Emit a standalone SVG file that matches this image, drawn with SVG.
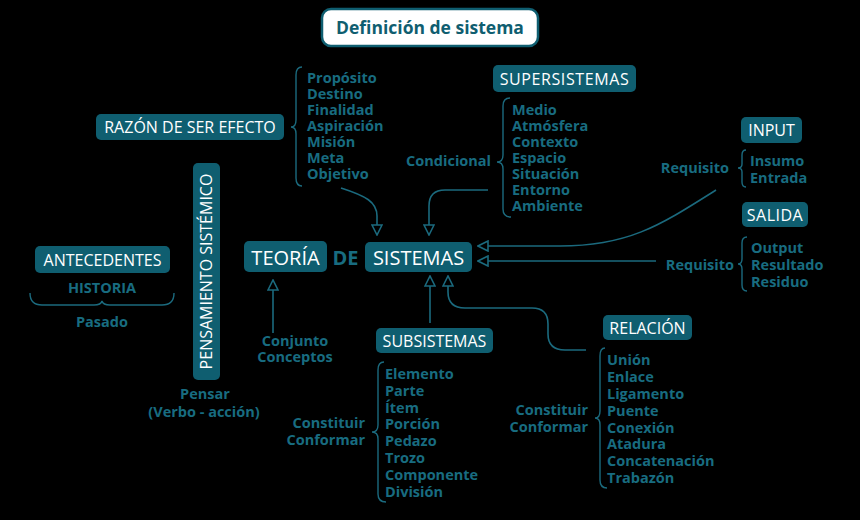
<svg xmlns="http://www.w3.org/2000/svg" width="860" height="520" viewBox="0 0 860 520">
<defs>
<style>
.box{fill:#0f5e70}
.bt{fill:#ffffff;font-family:"Open Sans",sans-serif;font-size:16px;text-anchor:middle}
.big{font-size:20px}
.t{fill:#186c80;font-family:"Open Sans",sans-serif;font-size:14.5px;font-weight:700}
.c{text-anchor:middle}
.e{text-anchor:end}
.ln{fill:none;stroke:#1b6a7e;stroke-width:1.6}
.br{fill:none;stroke:#1b6a7e;stroke-width:1.4}
</style>
<marker id="ah" viewBox="0 0 12 12" refX="11" refY="6" markerWidth="12" markerHeight="12" markerUnits="userSpaceOnUse" orient="auto">
<path d="M1,1 L11,6 L1,11 Z" fill="#000" stroke="#1b6a7e" stroke-width="1.6" stroke-linejoin="miter"/>
</marker>
</defs>
<rect width="860" height="520" fill="#000"/>

<g id="title">
<rect x="322" y="9" width="216" height="37" rx="9" fill="#ffffff" stroke="#0f5e70" stroke-width="2.5"/>
<text x="430" y="34" fill="#0f5e70" font-family="'Open Sans',sans-serif" font-size="17.5" font-weight="700" text-anchor="middle">Definición de sistema</text>
</g>

<g id="razon">
<rect class="box" x="96" y="114" width="188" height="26" rx="5"/>
<text class="bt" x="190" y="133">RAZÓN DE SER EFECTO</text>
<path class="br" d="M302,67 Q296,67 296,75 L296,120 Q296,127 291,127 Q296,127 296,134 L296,178 Q296,186 302,186"/>
<text class="t" x="307" y="83">Propósito</text>
<text class="t" x="307" y="99">Destino</text>
<text class="t" x="307" y="115">Finalidad</text>
<text class="t" x="307" y="131">Aspiración</text>
<text class="t" x="307" y="147">Misión</text>
<text class="t" x="307" y="163">Meta</text>
<text class="t" x="307" y="179">Objetivo</text>
</g>

<g id="supersistemas">
<rect class="box" x="493" y="65" width="143" height="27" rx="5"/>
<text class="bt" x="564.5" y="85" letter-spacing="0.6">SUPERSISTEMAS</text>
<text class="t e" x="491" y="166">Condicional</text>
<path class="br" d="M510,98 Q503,98 503,106 L503,155 Q503,162 497,162 Q503,162 503,169 L503,209 Q503,217 511,217"/>
<text class="t" x="512" y="115">Medio</text>
<text class="t" x="512" y="131">Atmósfera</text>
<text class="t" x="512" y="147">Contexto</text>
<text class="t" x="512" y="163">Espacio</text>
<text class="t" x="512" y="179">Situación</text>
<text class="t" x="512" y="195">Entorno</text>
<text class="t" x="512" y="211">Ambiente</text>
</g>

<g id="input">
<rect class="box" x="741" y="117" width="61" height="26" rx="5"/>
<text class="bt" x="771.5" y="136">INPUT</text>
<text class="t e" x="729" y="173">Requisito</text>
<path class="br" d="M746,150 Q742,150 742,155 L742,164 Q742,168 738,168 Q742,168 742,172 L742,182 Q742,187 746,187"/>
<text class="t" x="750" y="166">Insumo</text>
<text class="t" x="750" y="183">Entrada</text>
</g>

<g id="salida">
<rect class="box" x="742" y="202" width="66" height="25" rx="5"/>
<text class="bt" x="775" y="221" letter-spacing="0.5">SALIDA</text>
<text class="t e" x="734" y="270">Requisito</text>
<path class="br" d="M747,237 Q742,237 742,243 L742,259 Q742,264 738,264 Q742,264 742,269 L742,285 Q742,291 747,291"/>
<text class="t" x="751" y="253">Output</text>
<text class="t" x="751" y="270">Resultado</text>
<text class="t" x="751" y="287">Residuo</text>
</g>

<g id="teoria">
<rect class="box" x="244" y="241" width="83" height="31" rx="5"/>
<text class="bt big" x="285.5" y="265">TEORÍA</text>
<text x="345.5" y="265" fill="#186c80" font-family="'Open Sans',sans-serif" font-size="20" font-weight="700" text-anchor="middle">DE</text>
<text class="t c" x="295" y="346">Conjunto</text>
<text class="t c" x="295" y="362">Conceptos</text>
</g>

<g id="sistemas">
<rect class="box" x="365" y="242" width="107" height="30" rx="5"/>
<text class="bt big" x="418.5" y="265">SISTEMAS</text>
</g>

<g id="antecedentes">
<rect class="box" x="35" y="246" width="135" height="27" rx="5"/>
<text class="bt" x="102.5" y="266">ANTECEDENTES</text>
<text class="t c" x="102" y="293">HISTORIA</text>
<path class="br" d="M30,293 Q30,305 42,305 L94,305 Q101,305 102,301 Q103,305 110,305 L162,305 Q174,305 174,293"/>
<text class="t c" x="102" y="327">Pasado</text>
</g>

<g id="pensamiento">
<rect class="box" x="193" y="163" width="27" height="217" rx="5"/>
<text class="bt" x="0" y="0" transform="translate(212,271.5) rotate(-90)">PENSAMIENTO SISTÉMICO</text>
<text class="t c" x="205" y="399">Pensar</text>
<text class="t c" x="204" y="417">(Verbo - acción)</text>
</g>

<g id="subsistemas">
<rect class="box" x="376" y="328" width="117" height="25" rx="5"/>
<text class="bt" x="434.5" y="347">SUBSISTEMAS</text>
<text class="t e" x="365" y="428">Constituir</text>
<text class="t e" x="365" y="445">Conformar</text>
<path class="br" d="M384,362 Q378,362 378,370 L378,425 Q378,432 372,432 Q378,432 378,439 L378,494 Q378,502 386,502"/>
<text class="t" x="385" y="379">Elemento</text>
<text class="t" x="385" y="396">Parte</text>
<text class="t" x="385" y="413">Ítem</text>
<text class="t" x="385" y="429">Porción</text>
<text class="t" x="385" y="446">Pedazo</text>
<text class="t" x="385" y="463">Trozo</text>
<text class="t" x="385" y="480">Componente</text>
<text class="t" x="385" y="497">División</text>
</g>

<g id="relacion">
<rect class="box" x="603" y="315" width="89" height="25" rx="5"/>
<text class="bt" x="647.5" y="334">RELACIÓN</text>
<text class="t e" x="588" y="415">Constituir</text>
<text class="t e" x="588" y="432">Conformar</text>
<path class="br" d="M605,348 Q600,348 600,356 L600,411 Q600,418 595,418 Q600,418 600,425 L600,480 Q600,488 607,488"/>
<text class="t" x="607" y="365">Unión</text>
<text class="t" x="607" y="382">Enlace</text>
<text class="t" x="607" y="399">Ligamento</text>
<text class="t" x="607" y="416">Puente</text>
<text class="t" x="607" y="433">Conexión</text>
<text class="t" x="607" y="449">Atadura</text>
<text class="t" x="607" y="466">Concatenación</text>
<text class="t" x="607" y="483">Trabazón</text>
</g>

<g id="connectors">
<path class="ln" d="M341,188 C366,196 377,202 377,216 L377,235" marker-end="url(#ah)"/>
<path class="ln" d="M488,190 L445,190 Q429,190 429,206 L429,235" marker-end="url(#ah)"/>
<path class="ln" d="M716,190 C662,224 630,246 560,246 L478,246" marker-end="url(#ah)"/>
<path class="ln" d="M656,261 L478,261" marker-end="url(#ah)"/>
<path class="ln" d="M273,333 L273,280" marker-end="url(#ah)"/>
<path class="ln" d="M430,323 L430,276" marker-end="url(#ah)"/>
<path class="ln" d="M586,350 L565,350 Q548,350 548,334 L548,324 Q548,308 532,308 L465,308 Q448,308 448,292 L448,276" marker-end="url(#ah)"/>
</g>
</svg>
